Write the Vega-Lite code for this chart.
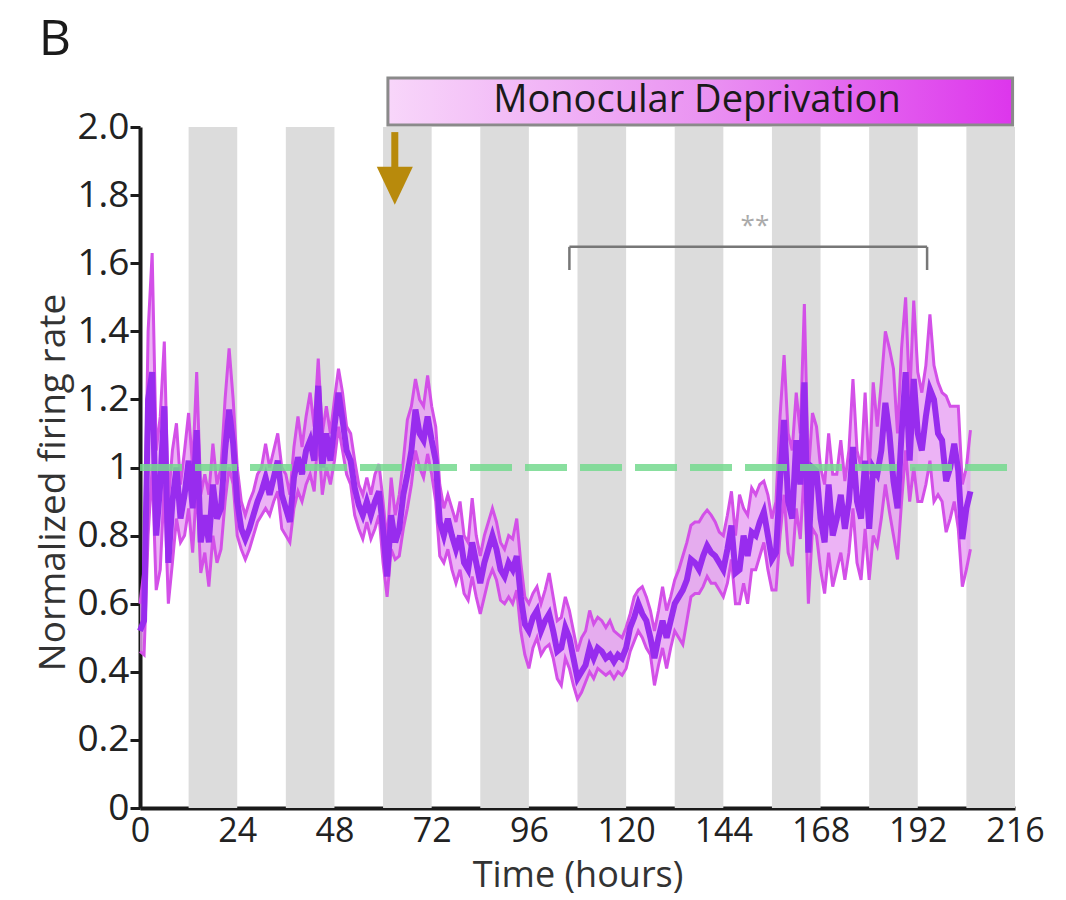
{
  "$schema": "https://vega.github.io/schema/vega-lite/v6.json",
  "autosize": "none",
  "width": 875,
  "height": 681,
  "padding": {"left": 140, "top": 127, "right": 51, "bottom": 92},
  "background": "white",
  "config": {"view": {"stroke": null}, "font": "Open Sans"},
  "datasets": {
    "dark": [{"s":12,"e":24},{"s":36,"e":48},{"s":60,"e":72},{"s":84,"e":96},{"s":108,"e":120},{"s":132,"e":144},{"s":156,"e":168},{"s":180,"e":192},{"s":204,"e":216}],
    "fr": [
{"t":0,"m":0.52,"lo":0.46,"hi":0.60},{"t":1,"m":0.55,"lo":0.45,"hi":0.70},{"t":2,"m":1.20,"lo":0.80,"hi":1.40},{"t":3,"m":1.28,"lo":1.00,"hi":1.63},{"t":4,"m":0.80,"lo":0.64,"hi":1.05},{"t":5,"m":0.95,"lo":0.70,"hi":1.15},{"t":6,"m":1.18,"lo":0.95,"hi":1.37},{"t":7,"m":0.72,"lo":0.60,"hi":0.90},{"t":8,"m":0.90,"lo":0.72,"hi":1.05},{"t":9,"m":1.00,"lo":0.85,"hi":1.13},
{"t":10,"m":0.85,"lo":0.78,"hi":0.95},{"t":11,"m":0.92,"lo":0.80,"hi":1.05},{"t":12,"m":1.02,"lo":0.88,"hi":1.16},{"t":13,"m":0.88,"lo":0.75,"hi":1.00},{"t":14,"m":1.11,"lo":0.95,"hi":1.28},{"t":15,"m":0.78,"lo":0.69,"hi":0.92},{"t":16,"m":0.86,"lo":0.75,"hi":0.98},{"t":17,"m":0.78,"lo":0.65,"hi":0.92},{"t":18,"m":0.95,"lo":0.80,"hi":1.07},{"t":19,"m":0.85,"lo":0.72,"hi":0.95},
{"t":20,"m":0.88,"lo":0.76,"hi":1.00},{"t":21,"m":1.05,"lo":0.90,"hi":1.20},{"t":22,"m":1.17,"lo":1.00,"hi":1.35},{"t":23,"m":1.07,"lo":0.95,"hi":1.20},{"t":24,"m":0.90,"lo":0.80,"hi":1.00},{"t":25,"m":0.82,"lo":0.76,"hi":0.90},{"t":26,"m":0.79,"lo":0.73,"hi":0.86},{"t":27,"m":0.82,"lo":0.76,"hi":0.90},{"t":28,"m":0.86,"lo":0.80,"hi":0.93},{"t":29,"m":0.90,"lo":0.84,"hi":0.98},
{"t":30,"m":0.93,"lo":0.86,"hi":1.00},{"t":31,"m":0.97,"lo":0.88,"hi":1.07},{"t":32,"m":0.92,"lo":0.86,"hi":1.00},{"t":33,"m":0.97,"lo":0.90,"hi":1.05},{"t":34,"m":1.02,"lo":0.93,"hi":1.10},{"t":35,"m":0.92,"lo":0.82,"hi":1.00},{"t":36,"m":0.88,"lo":0.80,"hi":0.98},{"t":37,"m":0.84,"lo":0.78,"hi":0.92},{"t":38,"m":0.97,"lo":0.88,"hi":1.06},{"t":39,"m":1.03,"lo":0.93,"hi":1.15},
{"t":40,"m":0.98,"lo":0.90,"hi":1.06},{"t":41,"m":1.05,"lo":0.95,"hi":1.15},{"t":42,"m":1.08,"lo":0.98,"hi":1.22},{"t":43,"m":1.02,"lo":0.93,"hi":1.12},{"t":44,"m":1.24,"lo":1.10,"hi":1.32},{"t":45,"m":1.00,"lo":0.92,"hi":1.10},{"t":46,"m":1.10,"lo":1.00,"hi":1.18},{"t":47,"m":1.02,"lo":0.95,"hi":1.10},{"t":48,"m":1.12,"lo":1.02,"hi":1.20},{"t":49,"m":1.22,"lo":1.12,"hi":1.29},
{"t":50,"m":1.14,"lo":1.05,"hi":1.22},{"t":51,"m":1.05,"lo":0.98,"hi":1.12},{"t":52,"m":1.02,"lo":0.95,"hi":1.10},{"t":53,"m":0.94,"lo":0.86,"hi":1.02},{"t":54,"m":0.89,"lo":0.82,"hi":0.95},{"t":55,"m":0.86,"lo":0.79,"hi":0.92},{"t":56,"m":0.90,"lo":0.84,"hi":0.97},{"t":57,"m":0.86,"lo":0.79,"hi":0.92},{"t":58,"m":0.90,"lo":0.82,"hi":0.98},{"t":59,"m":0.93,"lo":0.86,"hi":1.01},
{"t":60,"m":0.82,"lo":0.72,"hi":0.90},{"t":61,"m":0.68,"lo":0.62,"hi":0.78},{"t":62,"m":0.86,"lo":0.76,"hi":0.97},{"t":63,"m":0.78,"lo":0.73,"hi":0.86},{"t":64,"m":0.82,"lo":0.74,"hi":0.92},{"t":65,"m":0.92,"lo":0.82,"hi":1.02},{"t":66,"m":0.98,"lo":0.88,"hi":1.14},{"t":67,"m":1.05,"lo":0.95,"hi":1.18},{"t":68,"m":1.17,"lo":1.05,"hi":1.26},{"t":69,"m":1.10,"lo":1.00,"hi":1.20},
{"t":70,"m":1.08,"lo":0.97,"hi":1.18},{"t":71,"m":1.15,"lo":1.04,"hi":1.27},{"t":72,"m":1.08,"lo":0.98,"hi":1.18},{"t":73,"m":1.02,"lo":0.90,"hi":1.12},{"t":74,"m":0.84,"lo":0.74,"hi":0.95},{"t":75,"m":0.80,"lo":0.72,"hi":0.88},{"t":76,"m":0.85,"lo":0.76,"hi":0.92},{"t":77,"m":0.80,"lo":0.70,"hi":0.88},{"t":78,"m":0.76,"lo":0.66,"hi":0.84},{"t":79,"m":0.80,"lo":0.70,"hi":0.90},
{"t":80,"m":0.72,"lo":0.63,"hi":0.80},{"t":81,"m":0.70,"lo":0.61,"hi":0.78},{"t":82,"m":0.78,"lo":0.68,"hi":0.91},{"t":83,"m":0.72,"lo":0.62,"hi":0.80},{"t":84,"m":0.66,"lo":0.57,"hi":0.74},{"t":85,"m":0.72,"lo":0.62,"hi":0.80},{"t":86,"m":0.76,"lo":0.67,"hi":0.84},{"t":87,"m":0.80,"lo":0.70,"hi":0.88},{"t":88,"m":0.76,"lo":0.67,"hi":0.84},{"t":89,"m":0.70,"lo":0.61,"hi":0.78},
{"t":90,"m":0.68,"lo":0.60,"hi":0.76},{"t":91,"m":0.72,"lo":0.62,"hi":0.80},{"t":92,"m":0.70,"lo":0.60,"hi":0.79},{"t":93,"m":0.74,"lo":0.64,"hi":0.85},{"t":94,"m":0.62,"lo":0.52,"hi":0.72},{"t":95,"m":0.54,"lo":0.45,"hi":0.62},{"t":96,"m":0.52,"lo":0.41,"hi":0.60},{"t":97,"m":0.56,"lo":0.47,"hi":0.63},{"t":98,"m":0.58,"lo":0.50,"hi":0.65},{"t":99,"m":0.52,"lo":0.45,"hi":0.60},
{"t":100,"m":0.55,"lo":0.47,"hi":0.64},{"t":101,"m":0.57,"lo":0.48,"hi":0.69},{"t":102,"m":0.52,"lo":0.44,"hi":0.62},{"t":103,"m":0.46,"lo":0.38,"hi":0.55},{"t":104,"m":0.47,"lo":0.36,"hi":0.56},{"t":105,"m":0.53,"lo":0.44,"hi":0.62},{"t":106,"m":0.50,"lo":0.41,"hi":0.58},{"t":107,"m":0.44,"lo":0.36,"hi":0.52},{"t":108,"m":0.38,"lo":0.32,"hi":0.46},{"t":109,"m":0.40,"lo":0.34,"hi":0.50},
{"t":110,"m":0.42,"lo":0.37,"hi":0.52},{"t":111,"m":0.47,"lo":0.40,"hi":0.58},{"t":112,"m":0.44,"lo":0.38,"hi":0.54},{"t":113,"m":0.47,"lo":0.41,"hi":0.56},{"t":114,"m":0.46,"lo":0.40,"hi":0.55},{"t":115,"m":0.44,"lo":0.39,"hi":0.53},{"t":116,"m":0.45,"lo":0.40,"hi":0.55},{"t":117,"m":0.43,"lo":0.38,"hi":0.52},{"t":118,"m":0.45,"lo":0.40,"hi":0.51},{"t":119,"m":0.44,"lo":0.39,"hi":0.50},
{"t":120,"m":0.47,"lo":0.41,"hi":0.53},{"t":121,"m":0.53,"lo":0.46,"hi":0.57},{"t":122,"m":0.56,"lo":0.49,"hi":0.62},{"t":123,"m":0.60,"lo":0.52,"hi":0.64},{"t":124,"m":0.57,"lo":0.50,"hi":0.65},{"t":125,"m":0.55,"lo":0.47,"hi":0.62},{"t":126,"m":0.50,"lo":0.45,"hi":0.58},{"t":127,"m":0.44,"lo":0.36,"hi":0.52},{"t":128,"m":0.50,"lo":0.42,"hi":0.58},{"t":129,"m":0.55,"lo":0.47,"hi":0.65},
{"t":130,"m":0.50,"lo":0.41,"hi":0.58},{"t":131,"m":0.55,"lo":0.47,"hi":0.62},{"t":132,"m":0.60,"lo":0.52,"hi":0.67},{"t":133,"m":0.62,"lo":0.50,"hi":0.70},{"t":134,"m":0.64,"lo":0.48,"hi":0.74},{"t":135,"m":0.67,"lo":0.55,"hi":0.78},{"t":136,"m":0.73,"lo":0.62,"hi":0.83},{"t":137,"m":0.72,"lo":0.63,"hi":0.84},{"t":138,"m":0.70,"lo":0.63,"hi":0.84},{"t":139,"m":0.74,"lo":0.65,"hi":0.86},
{"t":140,"m":0.77,"lo":0.68,"hi":0.875},{"t":141,"m":0.75,"lo":0.66,"hi":0.86},{"t":142,"m":0.74,"lo":0.66,"hi":0.84},{"t":143,"m":0.72,"lo":0.64,"hi":0.81},{"t":144,"m":0.70,"lo":0.62,"hi":0.80},{"t":145,"m":0.76,"lo":0.66,"hi":0.86},{"t":146,"m":0.83,"lo":0.73,"hi":0.93},{"t":147,"m":0.69,"lo":0.60,"hi":0.80},{"t":148,"m":0.70,"lo":0.60,"hi":0.92},{"t":149,"m":0.80,"lo":0.66,"hi":0.88},
{"t":150,"m":0.74,"lo":0.60,"hi":0.86},{"t":151,"m":0.81,"lo":0.70,"hi":0.94},{"t":152,"m":0.80,"lo":0.70,"hi":0.92},{"t":153,"m":0.84,"lo":0.74,"hi":0.95},{"t":154,"m":0.87,"lo":0.78,"hi":0.96},{"t":155,"m":0.80,"lo":0.70,"hi":0.92},{"t":156,"m":0.73,"lo":0.64,"hi":0.85},{"t":157,"m":0.75,"lo":0.64,"hi":0.90},{"t":158,"m":0.96,"lo":0.80,"hi":1.15},{"t":159,"m":1.14,"lo":0.92,"hi":1.33},
{"t":160,"m":0.90,"lo":0.75,"hi":1.10},{"t":161,"m":0.85,"lo":0.71,"hi":1.05},{"t":162,"m":1.08,"lo":0.88,"hi":1.22},{"t":163,"m":0.95,"lo":0.79,"hi":1.10},{"t":164,"m":1.25,"lo":1.00,"hi":1.48},{"t":165,"m":0.75,"lo":0.60,"hi":0.98},{"t":166,"m":1.00,"lo":0.82,"hi":1.16},{"t":167,"m":0.99,"lo":0.80,"hi":1.12},{"t":168,"m":0.85,"lo":0.70,"hi":1.00},{"t":169,"m":0.78,"lo":0.63,"hi":0.95},
{"t":170,"m":0.95,"lo":0.75,"hi":1.10},{"t":171,"m":0.80,"lo":0.65,"hi":0.98},{"t":172,"m":0.85,"lo":0.70,"hi":0.98},{"t":173,"m":0.92,"lo":0.75,"hi":1.08},{"t":174,"m":0.82,"lo":0.67,"hi":0.96},{"t":175,"m":0.90,"lo":0.75,"hi":1.05},{"t":176,"m":1.06,"lo":0.88,"hi":1.26},{"t":177,"m":0.90,"lo":0.72,"hi":1.05},{"t":178,"m":0.85,"lo":0.67,"hi":1.00},{"t":179,"m":1.02,"lo":0.82,"hi":1.22},
{"t":180,"m":0.82,"lo":0.67,"hi":0.98},{"t":181,"m":1.00,"lo":0.80,"hi":1.25},{"t":182,"m":0.98,"lo":0.77,"hi":1.12},{"t":183,"m":1.05,"lo":0.85,"hi":1.25},{"t":184,"m":1.19,"lo":0.95,"hi":1.40},{"t":185,"m":1.10,"lo":0.87,"hi":1.35},{"t":186,"m":0.96,"lo":0.80,"hi":1.29},{"t":187,"m":0.88,"lo":0.73,"hi":1.10},{"t":188,"m":1.10,"lo":0.90,"hi":1.35},{"t":189,"m":1.28,"lo":1.05,"hi":1.50},
{"t":190,"m":1.02,"lo":0.90,"hi":1.20},{"t":191,"m":1.26,"lo":1.00,"hi":1.49},{"t":192,"m":1.10,"lo":0.90,"hi":1.28},{"t":193,"m":1.05,"lo":0.90,"hi":1.22},{"t":194,"m":1.15,"lo":0.95,"hi":1.30},{"t":195,"m":1.23,"lo":1.02,"hi":1.45},{"t":196,"m":1.20,"lo":0.90,"hi":1.30},{"t":197,"m":1.10,"lo":0.92,"hi":1.25},{"t":198,"m":1.08,"lo":0.90,"hi":1.22},{"t":199,"m":0.96,"lo":0.81,"hi":1.21},
{"t":200,"m":1.00,"lo":0.85,"hi":1.18},{"t":201,"m":1.07,"lo":0.90,"hi":1.18},{"t":202,"m":0.99,"lo":0.82,"hi":1.18},{"t":203,"m":0.79,"lo":0.65,"hi":0.95},{"t":204,"m":0.88,"lo":0.70,"hi":1.00},{"t":205,"m":0.93,"lo":0.76,"hi":1.11}
    ],
    "md": [{"x":61.2,"x2":215.4,"y":2.006,"y2":2.144}],
    "mdlabel": [{"x":137.5,"y":2.075,"label":"Monocular Deprivation"}],
    "panel": [{"x":-21,"y":2.255,"label":"B"}],
    "ref": [{"x":0,"x2":216,"y":1}],
    "arrowShaft": [{"x":62.9,"y":1.985,"y2":1.87}],
    "arrowHead": [{"x":62.9,"y":1.83}],
    "bracket": [{"x":106,"x2":194.3,"y":1.648,"y2":1.648},{"x":106,"x2":106,"y":1.58,"y2":1.648},{"x":194.3,"x2":194.3,"y":1.58,"y2":1.648}],
    "sig": [{"x":151.8,"y":1.71,"label":"**"}]
  },
  "layer": [
    {
      "data": {"name": "dark"},
      "mark": {"type": "rect", "color": "#dcdcdc"},
      "encoding": {
        "x": {"field": "s", "type": "quantitative", "scale": {"domain": [0, 216], "nice": false, "zero": false},
              "axis": {"values": [0,24,48,72,96,120,144,168,192,216], "title": "Time (hours)", "ticks": false,
                       "domainColor": "#1a1a1a", "domainWidth": 4, "labelFontSize": 34, "labelColor": "#222",
                       "labelPadding": 6, "titleFontSize": 36, "titleFontWeight": "normal", "titleColor": "#333",
                       "titlePadding": 10, "grid": false, "labelFlush": false}},
        "x2": {"field": "e"},
        "y": {"datum": 0, "type": "quantitative", "scale": {"domain": [0, 2], "nice": false},
              "axis": {"values": [0,0.2,0.4,0.6,0.8,1,1.2,1.4,1.6,1.8,2.0], "title": "Normalized firing rate",
                       "labelExpr": "datum.value == 1 ? '1' : datum.value == 0 ? '0' : format(datum.value, '.1f')",
                       "tickSize": 10, "tickWidth": 3, "tickColor": "#1a1a1a", "domainColor": "#1a1a1a", "domainWidth": 4,
                       "labelFontSize": 37, "labelColor": "#222", "labelPadding": 1, "titleFontSize": 37,
                       "titleFontWeight": "normal", "titleColor": "#333", "titlePadding": 4, "titleY": 355, "grid": false}},
        "y2": {"datum": 2}
      }
    },
    {
      "data": {"name": "fr"},
      "mark": {"type": "area", "color": "#e7a0f2", "opacity": 0.8},
      "encoding": {
        "x": {"field": "t", "type": "quantitative"},
        "y": {"field": "lo", "type": "quantitative"},
        "y2": {"field": "hi"}
      }
    },
    {
      "data": {"name": "fr"},
      "mark": {"type": "line", "color": "#d350e8", "strokeWidth": 3},
      "encoding": {
        "x": {"field": "t", "type": "quantitative"},
        "y": {"field": "lo", "type": "quantitative"}
      }
    },
    {
      "data": {"name": "fr"},
      "mark": {"type": "line", "color": "#d350e8", "strokeWidth": 3},
      "encoding": {
        "x": {"field": "t", "type": "quantitative"},
        "y": {"field": "hi", "type": "quantitative"}
      }
    },
    {
      "data": {"name": "fr"},
      "mark": {"type": "line", "color": "#982cee", "strokeWidth": 6},
      "encoding": {
        "x": {"field": "t", "type": "quantitative"},
        "y": {"field": "m", "type": "quantitative"}
      }
    },
    {
      "data": {"name": "ref"},
      "mark": {"type": "rule", "color": "#74d98e", "strokeWidth": 7, "strokeDash": [42, 13], "opacity": 0.85},
      "encoding": {
        "x": {"field": "x", "type": "quantitative"},
        "x2": {"field": "x2"},
        "y": {"field": "y", "type": "quantitative"}
      }
    },
    {
      "data": {"name": "md"},
      "mark": {"type": "rect", "stroke": "#8a8a8a", "strokeWidth": 3,
               "fill": {"gradient": "linear", "x1": 0, "y1": 0, "x2": 1, "y2": 0,
                        "stops": [{"offset": 0, "color": "#f8d6fa"}, {"offset": 0.5, "color": "#ea94f2"}, {"offset": 1, "color": "#dd36ec"}]}},
      "encoding": {
        "x": {"field": "x", "type": "quantitative"},
        "x2": {"field": "x2"},
        "y": {"field": "y", "type": "quantitative"},
        "y2": {"field": "y2"}
      }
    },
    {
      "data": {"name": "mdlabel"},
      "mark": {"type": "text", "fontSize": 38, "color": "#1a1a1a", "align": "center", "baseline": "middle"},
      "encoding": {
        "x": {"field": "x", "type": "quantitative"},
        "y": {"field": "y", "type": "quantitative"},
        "text": {"field": "label"}
      }
    },
    {
      "data": {"name": "panel"},
      "mark": {"type": "text", "fontSize": 50, "color": "#1a1a1a", "align": "center", "baseline": "middle"},
      "encoding": {
        "x": {"field": "x", "type": "quantitative"},
        "y": {"field": "y", "type": "quantitative"},
        "text": {"field": "label"}
      }
    },
    {
      "data": {"name": "arrowShaft"},
      "mark": {"type": "rule", "color": "#b88a0c", "strokeWidth": 7},
      "encoding": {
        "x": {"field": "x", "type": "quantitative"},
        "y": {"field": "y", "type": "quantitative"},
        "y2": {"field": "y2"}
      }
    },
    {
      "data": {"name": "arrowHead"},
      "mark": {"type": "point", "shape": "M-1,-1 L1,-1 L0,1.1 Z", "filled": true, "color": "#b88a0c", "size": 1300, "opacity": 1},
      "encoding": {
        "x": {"field": "x", "type": "quantitative"},
        "y": {"field": "y", "type": "quantitative"}
      }
    },
    {
      "data": {"name": "bracket"},
      "mark": {"type": "rule", "color": "#777777", "strokeWidth": 2.5},
      "encoding": {
        "x": {"field": "x", "type": "quantitative"},
        "x2": {"field": "x2"},
        "y": {"field": "y", "type": "quantitative"},
        "y2": {"field": "y2"}
      }
    },
    {
      "data": {"name": "sig"},
      "mark": {"type": "text", "fontSize": 26, "color": "#aaaaaa", "align": "center", "baseline": "middle"},
      "encoding": {
        "x": {"field": "x", "type": "quantitative"},
        "y": {"field": "y", "type": "quantitative"},
        "text": {"field": "label"}
      }
    }
  ]
}
